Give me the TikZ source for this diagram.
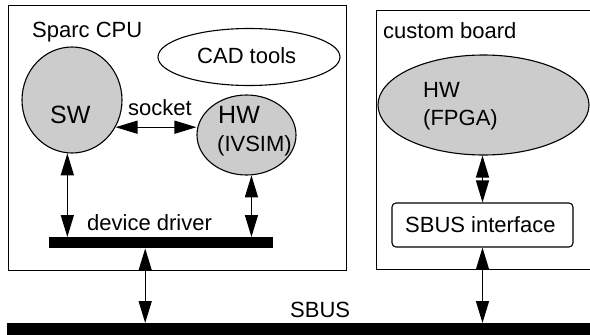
\documentclass[tikz,border=0pt]{standalone}
\usepackage{fontspec}
\setmainfont{Liberation Sans}
\usetikzlibrary{arrows.meta,shapes.geometric}
\begin{document}
\begin{tikzpicture}[x=1pt,y=-1pt,
  frame/.style={draw,line width=1.3pt,inner sep=0pt,anchor=north west},
  blob/.style={draw,ellipse,fill=gray!40,line width=1.1pt,inner sep=0pt},
  hollow/.style={draw,ellipse,line width=1.1pt,inner sep=0pt},
  busbar/.style={fill=black,inner sep=0pt,anchor=north west},
  lbl/.style={anchor=base west,inner sep=0pt,font=\fontsize{22}{24}\selectfont},
  biglbl/.style={lbl,font=\fontsize{25}{27}\selectfont},
  link/.style={line width=1.4pt,{Triangle[length=22pt,width=13pt]}-{Triangle[length=22pt,width=13pt]}},
]
\useasboundingbox (0,0) rectangle (590,335);

% enclosing boards
\node[frame,minimum width=338pt,minimum height=265pt] (cpu) at (8,5) {};
\node[frame,minimum width=230pt,minimum height=259pt] (board) at (376,10) {};

% blocks
\node[blob,minimum width=100pt,minimum height=106pt] (sw) at (72,100) {};
\node[hollow,minimum width=182pt,minimum height=57pt] (cad) at (249,57) {};
\node[blob,minimum width=99pt,minimum height=80pt] (ivsim) at (246.5,135) {};
\node[blob,minimum width=211pt,minimum height=100pt] (fpga) at (483.5,105) {};
\node[draw,rounded corners=4pt,line width=1.1pt,minimum width=181pt,minimum height=44pt,inner sep=0pt] (sbi) at (482.5,225) {};

% bars
\node[busbar,minimum width=224pt,minimum height=11pt] (drv) at (49,237) {};
\node[busbar,minimum width=600pt,minimum height=15pt] (sbus) at (7,323) {};

% labels
\node[lbl] (cpulbl) at (32,37) {Sparc CPU};
\node[lbl] (cadlbl) at (197,63) {CAD tools};
\node[biglbl] (swlbl) at (50,123) {SW};
\node[lbl] (socklbl) at (128,115) {socket};
\node[biglbl] (hw1) at (218,123) {HW};
\node[lbl] (iv) at (217,151) {(IVSIM)};
\node[lbl] (drvlbl) at (87,230) {device driver};
\node[lbl] (sbuslbl) at (290,317) {SBUS};
\node[lbl] (boardlbl) at (383,38) {custom board};
\node[lbl] (hw2) at (423,97) {HW};
\node[lbl] (fp) at (423,125) {(FPGA)};
\node[lbl] (sbilbl) at (405,232) {SBUS interface};

% connections
\draw[link] (sw.-32) -- (sw.-32 -| ivsim.west);
\draw[link] (sw.265) -- (sw.265 |- drv.north);
\draw[link] (ivsim.-83) -- (ivsim.-83 |- drv.north);
\draw[link] ([xshift=-16pt]drv.south) -- ([xshift=-16pt]drv.south |- sbus.north);
\draw[link] (sbi.north) -- (sbi.north |- fpga.south);
\draw[link] (sbi.south) -- (sbi.south |- sbus.north);
\end{tikzpicture}
\end{document}
